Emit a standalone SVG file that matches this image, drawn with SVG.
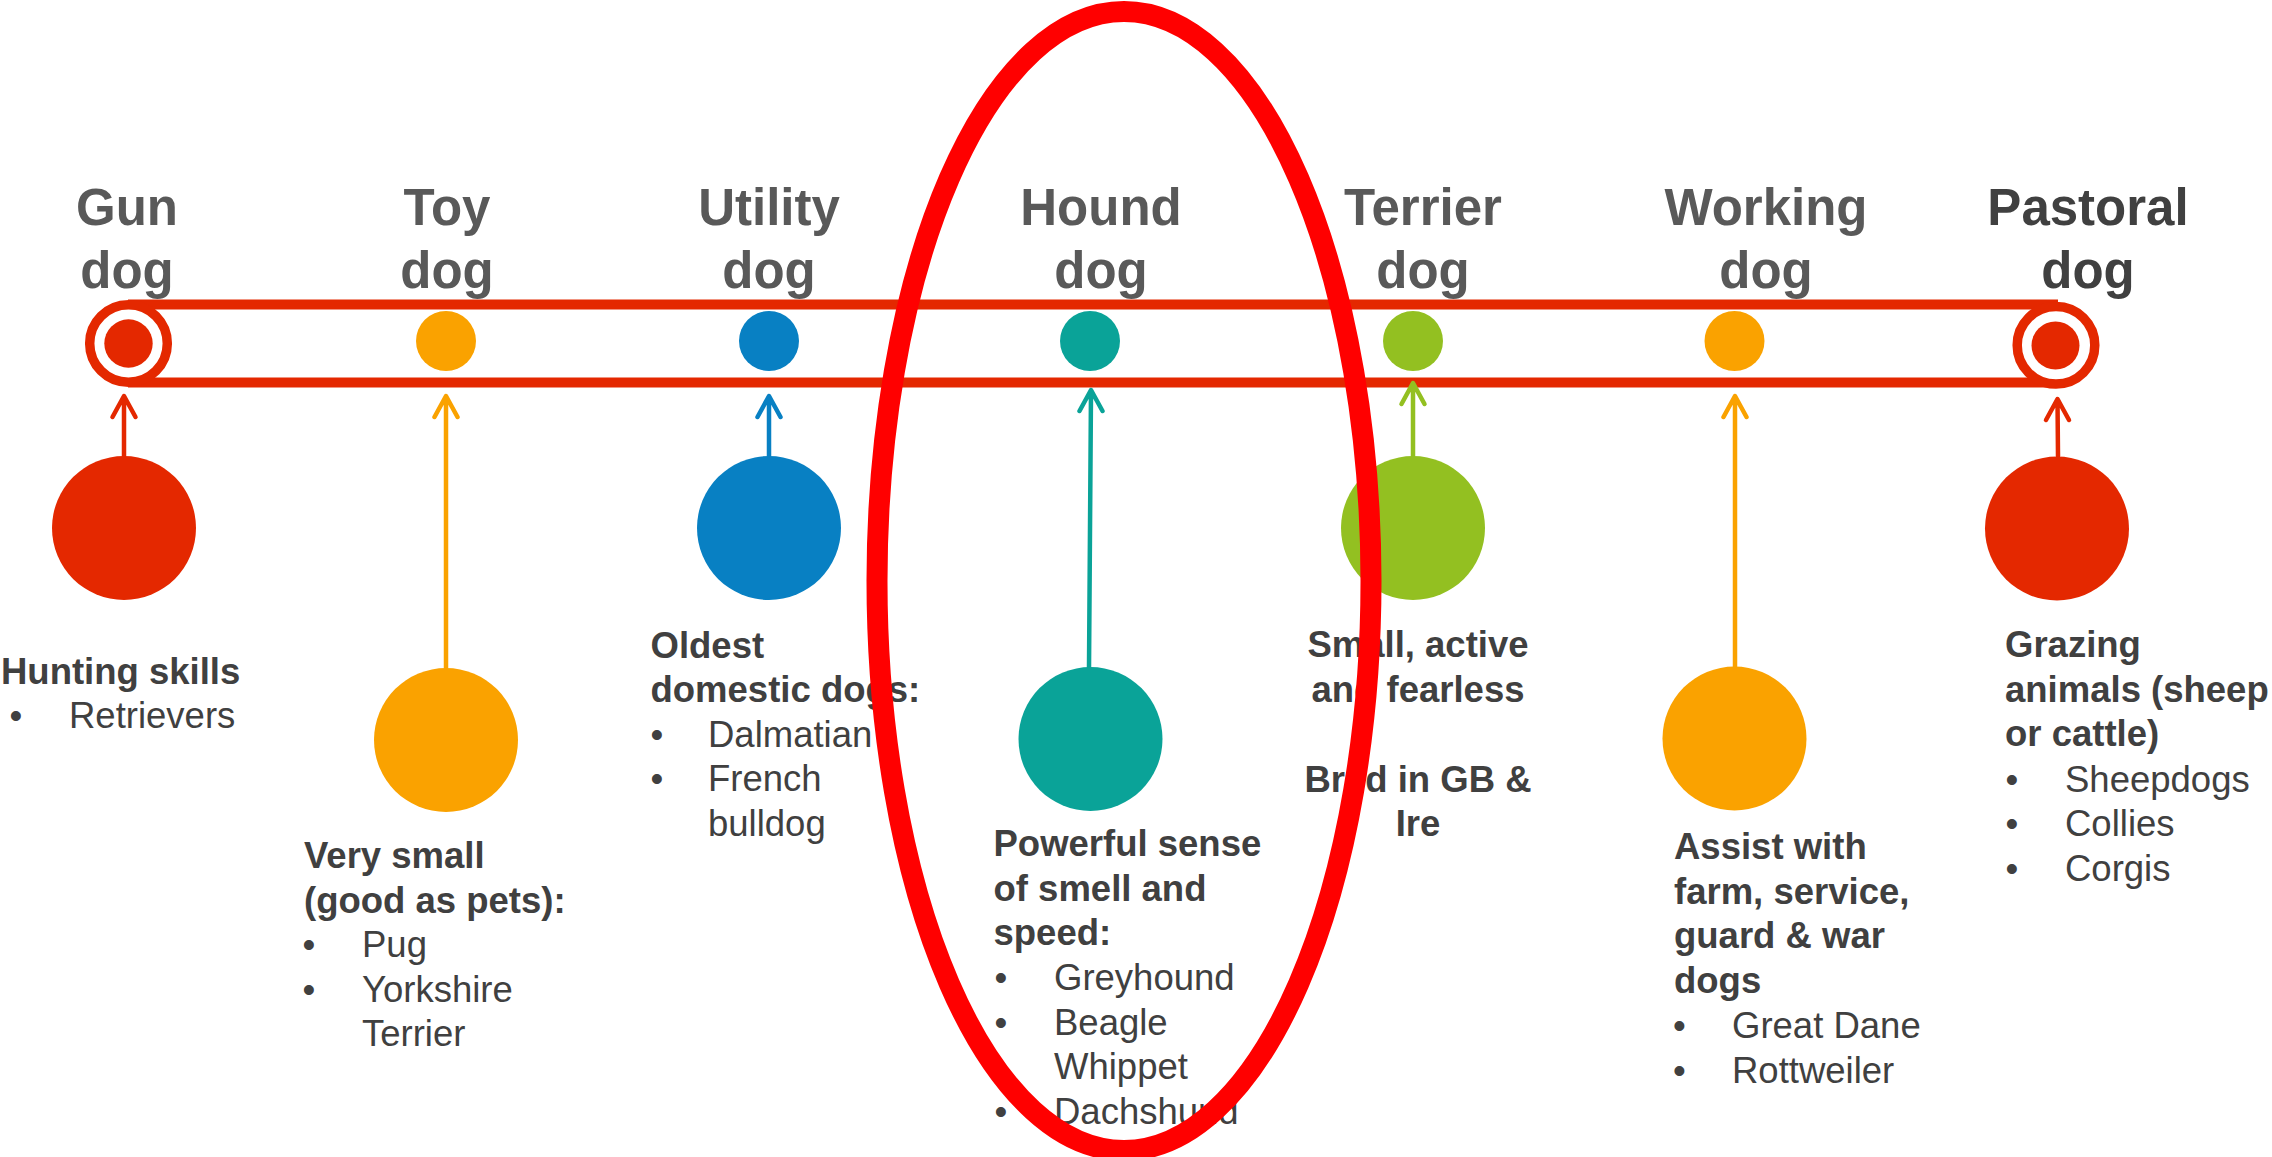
<svg xmlns="http://www.w3.org/2000/svg" width="2272" height="1157" viewBox="0 0 2272 1157">
<style>
.title{font-family:"Liberation Sans",Arial,sans-serif;font-weight:bold;font-size:51px;fill:#595959;text-anchor:middle}
.title.dark{fill:#404040}
.h{font-family:"Liberation Sans",Arial,sans-serif;font-weight:bold;font-size:36.5px;fill:#404040}
.t{font-family:"Liberation Sans",Arial,sans-serif;font-size:36.5px;fill:#404040}
.b{font-family:"Liberation Sans",Arial,sans-serif;font-size:36.5px;fill:#404040;text-anchor:middle}
.c{text-anchor:middle}
.bar{stroke:#E42800;stroke-width:10;fill:none}
.ring{stroke:#E42800;stroke-width:9.5;fill:#fff}
.red{fill:#E42800}.orange{fill:#FAA200}.blue{fill:#0880C3}.teal{fill:#0AA398}.green{fill:#93C021}
.arr{fill:none;stroke-width:4.5;stroke-linecap:round;stroke-linejoin:round}
.sred{stroke:#E42800}.sorange{stroke:#FAA200}.sblue{stroke:#0880C3}.steal{stroke:#0AA398}.sgreen{stroke:#93C021}
.hl{fill:none;stroke:#FF0000;stroke-width:21}
</style>

<g id="timeline">
<line class="bar" x1="128" y1="304.5" x2="2058" y2="304.5"/>
<line class="bar" x1="128" y1="382.5" x2="2058" y2="382.5"/>
</g>

<g id="connectors">
<path class="arr sred" d="M124 456 L124 397 M112.5 417 L124 396 L135.5 417"/>
<path class="arr sorange" d="M446 668 L446 397 M434.5 417 L446 396 L457.5 417"/>
<path class="arr sblue" d="M769 456 L769 397 M757.5 417 L769 396 L780.5 417"/>
<path class="arr steal" d="M1089 668 L1091 391 M1079.5 411 L1091 390 L1102.5 411"/>
<path class="arr sgreen" d="M1413 456 L1413 384 M1401.5 404 L1413 383 L1424.5 404"/>
<path class="arr sorange" d="M1735 668 L1735 397 M1723.5 417 L1735 396 L1746.5 417"/>
<path class="arr sred" d="M2058 456 L2057.5 400 M2046 420 L2057.5 399 L2069 420"/>
</g>

<g id="gun-dog">
<text class="title" x="127" y="225">Gun</text>
<text class="title" x="127" y="288">dog</text>
<circle class="ring" cx="128.5" cy="343.5" r="38.8"/>
<circle class="red" cx="128.5" cy="343.5" r="24.2"/>
<circle class="red" cx="124" cy="528" r="72"/>
<text class="h" x="1" y="683.5">Hunting skills</text>
<text class="b" x="16" y="727.5">•</text>
<text class="t" x="69" y="727.5">Retrievers</text>
</g>

<g id="toy-dog">
<text class="title" x="447" y="225">Toy</text>
<text class="title" x="447" y="288">dog</text>
<circle class="orange" cx="446" cy="341" r="30"/>
<circle class="orange" cx="446" cy="740" r="72"/>
<text class="h" x="304" y="868">Very small</text>
<text class="h" x="304" y="912.5">(good as pets):</text>
<text class="b" x="309" y="957">•</text>
<text class="t" x="362" y="957">Pug</text>
<text class="b" x="309" y="1001.5">•</text>
<text class="t" x="362" y="1001.5">Yorkshire</text>
<text class="t" x="362" y="1046">Terrier</text>
</g>

<g id="utility-dog">
<text class="title" x="769" y="225">Utility</text>
<text class="title" x="769" y="288">dog</text>
<circle class="blue" cx="769" cy="341" r="30"/>
<circle class="blue" cx="769" cy="528" r="72"/>
<text class="h" x="650.5" y="657.5">Oldest</text>
<text class="h" x="650.5" y="702">domestic dogs:</text>
<text class="b" x="657" y="746.5">•</text>
<text class="t" x="708" y="746.5">Dalmatian</text>
<text class="b" x="657" y="791">•</text>
<text class="t" x="708" y="791">French</text>
<text class="t" x="708" y="835.5">bulldog</text>
</g>

<g id="hound-dog">
<text class="title" x="1101" y="225">Hound</text>
<text class="title" x="1101" y="288">dog</text>
<circle class="teal" cx="1090" cy="341" r="30"/>
<circle class="teal" cx="1090.5" cy="739" r="72"/>
<text class="h" x="993.5" y="856">Powerful sense</text>
<text class="h" x="993.5" y="900.5">of smell and</text>
<text class="h" x="993.5" y="945">speed:</text>
<text class="b" x="1001" y="990">•</text>
<text class="t" x="1054" y="990">Greyhound</text>
<text class="b" x="1001" y="1034.5">•</text>
<text class="t" x="1054" y="1034.5">Beagle</text>
<text class="b" x="1001" y="1079">•</text>
<text class="t" x="1054" y="1079">Whippet</text>
<text class="b" x="1001" y="1124">•</text>
<text class="t" x="1054" y="1124">Dachshund</text>
</g>

<g id="terrier-dog">
<text class="title" x="1423" y="225">Terrier</text>
<text class="title" x="1423" y="288">dog</text>
<circle class="green" cx="1413" cy="341" r="30"/>
<circle class="green" cx="1413" cy="528" r="72"/>
<text class="h c" x="1418" y="657">Small, active</text>
<text class="h c" x="1418" y="701.5">and fearless</text>
<text class="h c" x="1418" y="792">Bred in GB &amp;</text>
<text class="h c" x="1418" y="836">Ire</text>
</g>

<g id="working-dog">
<text class="title" x="1766" y="225">Working</text>
<text class="title" x="1766" y="288">dog</text>
<circle class="orange" cx="1734.5" cy="341" r="30"/>
<circle class="orange" cx="1734.5" cy="738.5" r="72"/>
<text class="h" x="1674" y="859">Assist with</text>
<text class="h" x="1674" y="903.5">farm, service,</text>
<text class="h" x="1674" y="948">guard &amp; war</text>
<text class="h" x="1674" y="992.5">dogs</text>
<text class="b" x="1679.5" y="1038">•</text>
<text class="t" x="1732" y="1038">Great Dane</text>
<text class="b" x="1679.5" y="1083">•</text>
<text class="t" x="1732" y="1083">Rottweiler</text>
</g>

<g id="pastoral-dog">
<text class="title dark" x="2088" y="225">Pastoral</text>
<text class="title dark" x="2088" y="288">dog</text>
<circle class="ring" cx="2056" cy="345.3" r="38.8"/>
<circle class="red" cx="2055.5" cy="345.5" r="24"/>
<circle class="red" cx="2057" cy="528.5" r="72"/>
<text class="h" x="2005" y="657">Grazing</text>
<text class="h" x="2005" y="701.5">animals (sheep</text>
<text class="h" x="2005" y="746">or cattle)</text>
<text class="b" x="2012" y="791.5">•</text>
<text class="t" x="2065" y="791.5">Sheepdogs</text>
<text class="b" x="2012" y="836">•</text>
<text class="t" x="2065" y="836">Collies</text>
<text class="b" x="2012" y="880.5">•</text>
<text class="t" x="2065" y="880.5">Corgis</text>
</g>

<g id="highlight">
<ellipse class="hl" cx="1124" cy="581" rx="247" ry="569.5"/>
</g>
</svg>
